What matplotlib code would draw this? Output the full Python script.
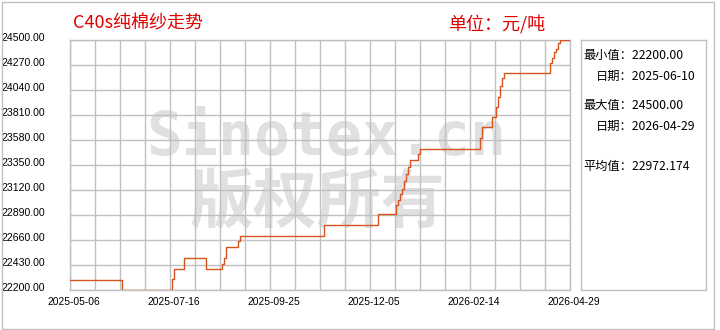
import numpy as np
import matplotlib
matplotlib.use('Agg')
import matplotlib.pyplot as plt
from matplotlib.patches import Rectangle
from matplotlib.transforms import ScaledTranslation

### data (trading-day index -> price level, steps)
change_idx = [0, 26, 51, 52, 57, 68, 76, 77, 78, 84, 85, 127, 154,
              163, 164, 165, 166, 167, 168, 169, 170, 174, 175,
              205, 206, 211, 213, 214, 215, 216, 217,
              240, 241, 242, 243, 244, 245, 250]
change_val = [22290, 22200, 22300, 22390, 22490, 22390, 22440, 22490, 22600, 22650, 22700, 22800, 22900,
              22980, 23030, 23080, 23130, 23200, 23270, 23330, 23400, 23450, 23500,
              23600, 23700, 23790, 23880, 23980, 24080, 24150, 24200,
              24290, 24330, 24390, 24420, 24470, 24500, 24500]
date_pos = [0, 50, 100, 150, 200, 250]
date_labels = ['2025-05-06', '2025-07-16', '2025-09-25', '2025-12-05', '2026-02-14', '2026-04-29']
y_ticks = [22200 + 230 * k for k in range(11)]

title = 'C40s纯棉纱走势'
unit = '单位：元/吨'
info = [('最小值：22200.00', 0.016, 0.936),
        ('日期：2025-06-10', 0.12, 0.856),
        ('最大值：24500.00', 0.016, 0.736),
        ('日期：2026-04-29', 0.12, 0.656),
        ('平均值：22972.174', 0.016, 0.496)]

cjk = ['Noto Sans CJK SC', 'DejaVu Sans']
W, H = 720, 330
grid_c = '#c0c0c0'
red = '#e00000'

fig = plt.figure(figsize=(7.2, 3.3), dpi=100)
fig.patch.set_facecolor('white')

# outer frame
fig.patches.append(Rectangle((1.5 / W, 1.0 / H), 712.5 / W, 327.5 / H, transform=fig.transFigure,
                             fill=False, edgecolor=grid_c, linewidth=1))

ax = fig.add_axes([70 / W, 40 / H, 500 / W, 250 / H])
ax.set_xlim(0, 250)
ax.set_ylim(22200, 24500)
ax.set_xticks(date_pos)
ax.set_xticklabels(date_labels, fontsize=7.4, family='Liberation Sans')
ax.set_xticks(np.arange(0, 251, 12.5), minor=True)
ax.set_yticks(y_ticks)
ax.set_yticklabels(['%.2f' % v for v in y_ticks], fontsize=7.6, family='Liberation Sans')
ax.tick_params(axis='both', which='both', length=0)
ax.tick_params(axis='x', pad=5)
ax.tick_params(axis='y', pad=18)
ax.grid(True, which='both', color=grid_c, linewidth=1)
ax.set_axisbelow(True)
for s in ax.spines.values():
    s.set_color(grid_c)
    s.set_linewidth(1)

for lab in ax.get_xticklabels():
    lab.set_transform(lab.get_transform() + ScaledTranslation(4 / 100, 0, fig.dpi_scale_trans))
for lab in ax.get_yticklabels():
    lab.set_transform(lab.get_transform() + ScaledTranslation(0, 3 / 100, fig.dpi_scale_trans))

# watermark
ax.text(0.512, 0.54, 'Sinotex.cn', transform=ax.transAxes, ha='center', va='baseline',
        fontsize=43, family='DejaVu Sans Mono', fontweight='bold', color='#e0e0e0', zorder=0.1)
ax.text(0.494, 0.272, '版权所有', transform=ax.transAxes, ha='center', va='baseline',
        fontsize=46, family=cjk, fontweight='bold', color='#e0e0e0', zorder=0.1)

ax.plot(change_idx, change_val, drawstyle='steps-post', color='#d4561e', linewidth=1.0, zorder=3)

# info box
ax2 = fig.add_axes([581 / W, 40 / H, 125 / W, 250 / H])
ax2.set_xticks([])
ax2.set_yticks([])
for s in ax2.spines.values():
    s.set_color(grid_c)
    s.set_linewidth(1)
for txt, x, y in info:
    ax2.text(x, y, txt, transform=ax2.transAxes, ha='left', va='center', fontsize=8.8, family=cjk)

fig.text(73 / W, (H - 24) / H, title, ha='left', va='center', fontsize=13, family=cjk, color=red)
fig.text(448 / W, (H - 24) / H, unit, ha='left', va='center', fontsize=13, family=cjk, color=red)

fig.savefig('out.png', dpi=100)
